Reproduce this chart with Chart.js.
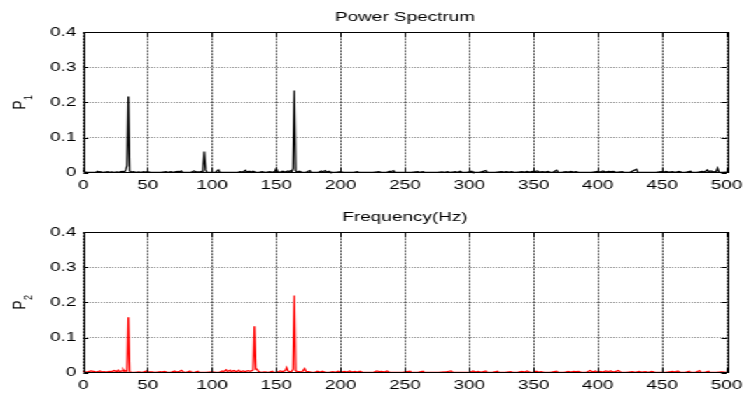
<!DOCTYPE html>
<html><head><meta charset="utf-8">
<script src="https://cdn.jsdelivr.net/npm/chart.js@4/dist/chart.umd.min.js"></script>
<style>
html,body{margin:0;padding:0;background:#fff;overflow:hidden;width:743px;height:394px;}
#wrap{position:absolute;left:0;top:0;width:531px;height:394px;transform:scaleX(1.4);transform-origin:0 0;}
canvas{position:absolute;left:0;display:block;}
</style></head><body>
<div id="wrap">
<canvas id="c1" width="531" height="200" style="top:0px"></canvas>
<canvas id="c2" width="531" height="194" style="top:200px"></canvas>
</div>
<script>
// ---- data (frequency Hz, power) ----
const titles = ["Power Spectrum", "Frequency(Hz)"];
const yLabels = [["P", "1"], ["P", "2"]];
const xTickValues = [0, 50, 100, 150, 200, 250, 300, 350, 400, 450, 500];
const yTickValues = [0, 0.1, 0.2, 0.3, 0.4];
const spectrum1 = [
[0,0.009],[1,0.004],[2,0.001],[5,0.001],[8,0.001],[10,0.002],[11,0.004],[12,0.002],[13,0.003],[15,0.001],
[17,0.002],[19,0.003],[20,0.001],[22,0.002],[24,0.001],[26,0.002],[28,0.001],[29,0.003],[31,0.004],[32,0.002],
[33,0.008],[34,0.02],[35,0.217],[36,0.005],[37,0.002],[39,0.003],[41,0.001],[43,0.002],[45,0.001],[47,0.003],
[48,0.002],[50,0.003],[52,0.001],[55,0.001],[58,0.001],[60,0.001],[62,0.002],[64,0.003],[66,0.001],[68,0.003],
[70,0.001],[72,0.003],[74,0.004],[75,0.002],[76,0.005],[77,0.002],[80,0.001],[84,0.002],[86,0.005],[88,0.002],
[90,0.002],[92,0.004],[93,0.012],[94,0.06],[95,0.008],[96,0.002],[98,0.001],[101,0.001],[103,0.002],[105,0.008],
[106,0.002],[108,0.001],[112,0.001],[116,0.001],[120,0.001],[122,0.003],[124,0.002],[126,0.007],[127,0.002],[129,0.004],
[130,0.002],[132,0.004],[134,0.001],[137,0.002],[139,0.003],[141,0.001],[143,0.002],[145,0.003],[147,0.001],[149,0.004],
[150,0.012],[151,0.003],[153,0.001],[155,0.004],[157,0.002],[159,0.005],[160,0.003],[161,0.006],[162,0.003],[163,0.012],
[164,0.234],[165,0.006],[166,0.002],[168,0.004],[170,0.001],[173,0.001],[176,0.006],[177,0.001],[180,0.001],[183,0.002],
[185,0.005],[186,0.002],[188,0.006],[189,0.002],[191,0.004],[192,0.001],[196,0.001],[200,0.003],[202,0.001],[206,0.001],
[210,0.001],[213,0.003],[214,0.001],[220,0.001],[225,0.001],[230,0.003],[231,0.001],[236,0.001],[238,0.004],[239,0.002],
[241,0.006],[242,0.002],[245,0.001],[250,0.001],[255,0.001],[260,0.003],[261,0.001],[264,0.003],[265,0.001],[270,0.001],
[275,0.001],[279,0.002],[281,0.001],[283,0.003],[285,0.001],[287,0.002],[289,0.003],[291,0.001],[293,0.004],[294,0.002],
[298,0.001],[302,0.004],[303,0.001],[308,0.001],[313,0.006],[314,0.001],[320,0.001],[325,0.003],[327,0.002],[329,0.003],
[331,0.002],[333,0.003],[335,0.001],[338,0.002],[341,0.003],[343,0.002],[345,0.004],[347,0.002],[349,0.004],[351,0.003],
[353,0.005],[354,0.002],[357,0.003],[359,0.002],[361,0.004],[363,0.002],[365,0.001],[368,0.007],[369,0.001],[372,0.001],
[375,0.003],[377,0.002],[379,0.004],[381,0.002],[383,0.003],[385,0.001],[390,0.001],[395,0.001],[400,0.004],[402,0.002],
[404,0.005],[406,0.002],[408,0.004],[410,0.003],[412,0.004],[414,0.001],[419,0.003],[420,0.001],[425,0.001],[430,0.01],
[431,0.002],[435,0.001],[440,0.001],[445,0.001],[449,0.003],[451,0.002],[453,0.004],[455,0.002],[458,0.003],[460,0.001],
[463,0.004],[465,0.002],[468,0.001],[472,0.004],[473,0.001],[477,0.001],[481,0.004],[483,0.002],[485,0.008],[486,0.003],
[488,0.005],[490,0.002],[492,0.004],[493,0.013],[494,0.002],[497,0.001],[500,0.002]
];
const spectrum2 = [
[0,0.004],[2,0.002],[4,0.003],[6,0.005],[8,0.004],[10,0.002],[13,0.005],[14,0.002],[16,0.003],[18,0.002],
[20,0.004],[22,0.003],[24,0.006],[26,0.003],[27,0.007],[28,0.003],[30,0.005],[31,0.009],[32,0.003],[33,0.006],
[34,0.004],[35,0.158],[36,0.004],[37,0.001],[40,0.001],[43,0.002],[46,0.001],[49,0.005],[50,0.002],[53,0.002],
[56,0.001],[60,0.003],[61,0.002],[63,0.004],[65,0.002],[68,0.001],[71,0.005],[72,0.002],[75,0.004],[76,0.007],
[77,0.005],[78,0.002],[80,0.001],[83,0.005],[84,0.001],[87,0.002],[89,0.004],[90,0.001],[95,0.001],[100,0.002],
[103,0.001],[106,0.002],[108,0.005],[109,0.003],[111,0.008],[112,0.003],[114,0.007],[115,0.003],[117,0.006],[119,0.003],
[121,0.007],[122,0.002],[124,0.005],[126,0.003],[128,0.006],[130,0.004],[132,0.008],[133,0.132],[134,0.01],[135,0.01],
[136,0.004],[138,0.001],[141,0.002],[144,0.001],[147,0.004],[148,0.001],[151,0.002],[153,0.005],[155,0.003],[157,0.006],
[158,0.015],[159,0.006],[160,0.002],[162,0.004],[163,0.01],[164,0.22],[165,0.006],[166,0.004],[168,0.003],[170,0.002],
[172,0.012],[173,0.004],[175,0.003],[177,0.002],[180,0.001],[182,0.004],[184,0.002],[186,0.004],[188,0.001],[191,0.001],
[194,0.003],[196,0.001],[198,0.004],[200,0.002],[203,0.004],[205,0.002],[207,0.005],[209,0.002],[211,0.004],[213,0.002],
[215,0.004],[217,0.001],[222,0.001],[226,0.002],[228,0.005],[230,0.003],[232,0.004],[234,0.002],[236,0.005],[238,0.001],
[243,0.001],[248,0.001],[254,0.004],[255,0.001],[260,0.001],[264,0.004],[265,0.001],[270,0.001],[276,0.001],[281,0.002],
[286,0.005],[287,0.001],[292,0.001],[297,0.001],[301,0.002],[303,0.005],[305,0.002],[307,0.004],[309,0.002],[311,0.003],
[313,0.005],[314,0.001],[318,0.001],[322,0.004],[323,0.001],[328,0.001],[332,0.003],[334,0.001],[338,0.002],[341,0.004],
[343,0.002],[345,0.005],[347,0.002],[350,0.001],[352,0.004],[354,0.002],[356,0.003],[358,0.001],[363,0.001],[368,0.004],
[369,0.001],[374,0.001],[377,0.004],[379,0.002],[381,0.004],[383,0.003],[385,0.004],[387,0.001],[391,0.001],[394,0.006],
[396,0.002],[398,0.005],[400,0.002],[402,0.004],[404,0.002],[406,0.005],[408,0.003],[410,0.005],[412,0.002],[414,0.004],
[416,0.006],[418,0.001],[422,0.001],[427,0.003],[429,0.001],[432,0.004],[434,0.002],[437,0.003],[439,0.001],[442,0.004],
[444,0.002],[448,0.001],[453,0.001],[458,0.004],[460,0.002],[462,0.005],[464,0.001],[468,0.001],[471,0.004],[472,0.001],
[476,0.001],[479,0.006],[480,0.001],[483,0.001],[486,0.004],[487,0.001],[492,0.001],[496,0.002],[500,0.001]
];
const seriesColors = ["#000000", "#ff0000"];

// ---- drawing ----
const FONT = "'Liberation Sans', Arial, Helvetica, sans-serif";

const framePlugin = {
  id: 'frame',
  afterDraw(chart, args, opts) {
    const ctx = chart.ctx, a = chart.chartArea;
    const xs = chart.scales.x, ys = chart.scales.y;
    ctx.save();
    ctx.strokeStyle = '#000';
    ctx.lineWidth = 1;
    ctx.setLineDash([]);
    ctx.beginPath();
    xTickValues.forEach(v => {
      const px = Math.round(xs.getPixelForValue(v)) + 0.5;
      ctx.moveTo(px, a.bottom); ctx.lineTo(px, a.bottom - 5);
      ctx.moveTo(px, a.top); ctx.lineTo(px, a.top + 5);
    });
    yTickValues.forEach(v => {
      const py = Math.round(ys.getPixelForValue(v)) + 0.5;
      ctx.moveTo(a.left, py); ctx.lineTo(a.left + 3.6, py);
      ctx.moveTo(a.right, py); ctx.lineTo(a.right - 3.6, py);
    });
    ctx.stroke();
    ctx.strokeRect(Math.round(a.left) + 0.5, Math.round(a.top) + 0.5,
                   Math.round(a.right - a.left), Math.round(a.bottom - a.top));
    const lab = opts.label;
    const cy = (a.top + a.bottom) / 2;
    ctx.translate(18.4, cy);
    ctx.rotate(-Math.PI / 2);
    ctx.fillStyle = '#000';
    ctx.textBaseline = 'alphabetic';
    ctx.textAlign = 'left';
    ctx.font = '13.5px ' + FONT;
    const wP = ctx.measureText(lab[0]).width;
    ctx.font = '9px ' + FONT;
    const wS = ctx.measureText(lab[1]).width;
    const x0 = -(wP + wS) / 2;
    ctx.font = '13.5px ' + FONT;
    ctx.fillText(lab[0], x0, 0);
    ctx.font = '9px ' + FONT;
    ctx.fillText(lab[1], x0 + wP + 0.5, 4.5);
    ctx.restore();
  }
};

function makeChart(id, pts, color, title, label, xHeight) {
  return new Chart(document.getElementById(id), {
    type: 'line',
    data: { datasets: [{
      data: pts.map(p => ({ x: p[0], y: p[1] })),
      borderColor: color, borderWidth: 1.25, pointRadius: 0, tension: 0, clip: false, fill: false
    }]},
    options: {
      responsive: false, animation: false, devicePixelRatio: 1,
      layout: { padding: { left: 0, right: 12, top: 0, bottom: 0 } },
      plugins: {
        legend: { display: false }, tooltip: { enabled: false },
        title: { display: true, text: title, color: '#000', fullSize: false,
                 font: { family: FONT, size: 13.5, weight: 'normal' },
                 padding: { top: 9.2, bottom: 6.9 } },
        frame: { label: label }
      },
      scales: {
        x: {
          type: 'linear', min: 0, max: 500,
          afterFit: s => { s.height = xHeight; s.paddingLeft = 0; s.paddingRight = 0; },
          afterBuildTicks: s => { s.ticks = xTickValues.map(v => ({ value: v })); },
          ticks: { color: '#000', font: { family: FONT, size: 13.5 }, padding: 4.5, maxRotation: 0, autoSkip: false,
                   callback: v => String(v) },
          grid: { color: 'rgba(0,0,0,0.7)', lineWidth: 1, drawTicks: false },
          border: { display: false, dash: [2, 1] }
        },
        y: {
          min: 0, max: 0.4,
          afterFit: s => { s.width = 59.5; s.paddingTop = 0; s.paddingBottom = 0; },
          afterBuildTicks: s => { s.ticks = yTickValues.map(v => ({ value: v })); },
          ticks: { color: '#000', font: { family: FONT, size: 13.5 }, padding: 5,
                   callback: v => String(Math.round(v * 10) / 10) },
          grid: { color: 'rgba(0,0,0,0.45)', lineWidth: 1, drawTicks: false },
          border: { display: false, dash: [1, 1] }
        }
      }
    },
    plugins: [framePlugin]
  });
}

makeChart('c1', spectrum1, seriesColors[0], titles[0], yLabels[0], 27.3);
makeChart('c2', spectrum2, seriesColors[1], titles[1], yLabels[1], 21.3);
</script>
</body></html>
